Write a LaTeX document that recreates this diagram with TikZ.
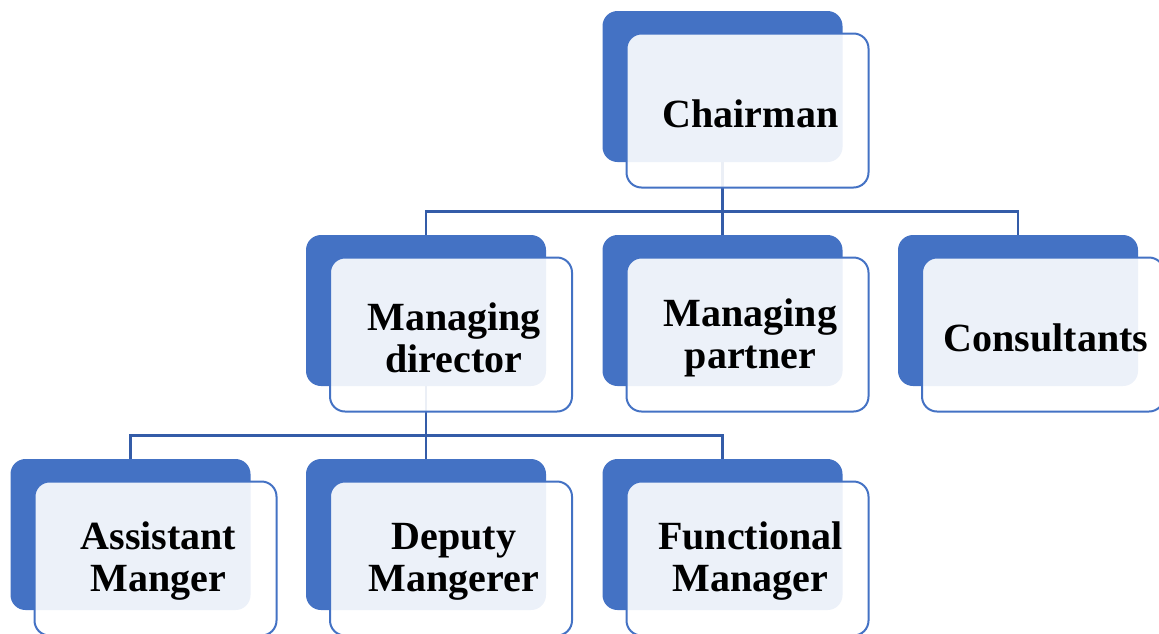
\documentclass[tikz,border=0pt]{standalone}
\usepackage{fontspec}
\setmainfont{Liberation Serif}
\definecolor{orgblue}{RGB}{68,114,196}
\definecolor{linkblue}{RGB}{52,92,168}

\begin{document}
\begin{tikzpicture}[x=0.5pt,y=-0.5pt,
    back/.style={fill=orgblue,rounded corners=7.5pt,inner sep=0pt,
        minimum width=120pt,minimum height=75.5pt},
    front/.style={draw=orgblue,line width=1pt,fill=white,fill opacity=0.9,
        rounded corners=7.5pt,inner sep=0pt,
        minimum width=121pt,minimum height=77pt},
    title/.style={align=center,text opacity=1,fill opacity=1,
        xshift=1.5pt,yshift=-1.5pt,
        font=\bfseries\fontsize{20}{21}\selectfont},
    link/.style={draw=linkblue,line width=1.3pt}]
            \useasboundingbox (0,0) rectangle (1159,633);
            \clip (0,0) rectangle (1159,633);
            % dark boxes behind
            \node[back] (chairB) at (722.5,86.5) {};
            \node[back] (mdirB) at (426,310.5) {};
            \node[back] (mpartB) at (722.5,310.5) {};
            \node[back] (consB) at (1018,310.5) {};
            \node[back] (asstB) at (130.5,534.5) {};
            \node[back] (depB) at (426,534.5) {};
            \node[back] (funcB) at (722.5,534.5) {};
            % connectors
            \draw[link] (chairB.south) -- ++(0,49) -| (mdirB.north);
            \draw[link] (chairB.south) -- (mpartB.north);
            \draw[link] (chairB.south) -- ++(0,49) -| (consB.north);
            \draw[link] (mdirB.south) -- ++(0,49) -| (asstB.north);
            \draw[link] (mdirB.south) -- (depB.north);
            \draw[link] (mdirB.south) -- ++(0,49) -| (funcB.north);
            % light boxes with the titles
            \node[front,label={[title]center:Chairman}] (chair)
                at ([xshift=12.5pt,yshift=-12pt]chairB) {};
            \node[front,label={[title]center:{Managing\\director}}] (mdir)
                at ([xshift=12.5pt,yshift=-12pt]mdirB) {};
            \node[front,label={[title]center:{Managing\\partner}}] (mpart)
                at ([xshift=12.5pt,yshift=-12pt]mpartB) {};
            \node[front,label={[title]center:Consultants}] (cons)
                at ([xshift=12.5pt,yshift=-12pt]consB) {};
            \node[front,label={[title]center:{Assistant\\Manger}}] (asst)
                at ([xshift=12.5pt,yshift=-12pt]asstB) {};
            \node[front,label={[title]center:{Deputy\\Mangerer}}] (dep)
                at ([xshift=12.5pt,yshift=-12pt]depB) {};
            \node[front,label={[title]center:{Functional\\Manager}}] (func)
                at ([xshift=12.5pt,yshift=-12pt]funcB) {};
        \end{tikzpicture}
\end{document}
